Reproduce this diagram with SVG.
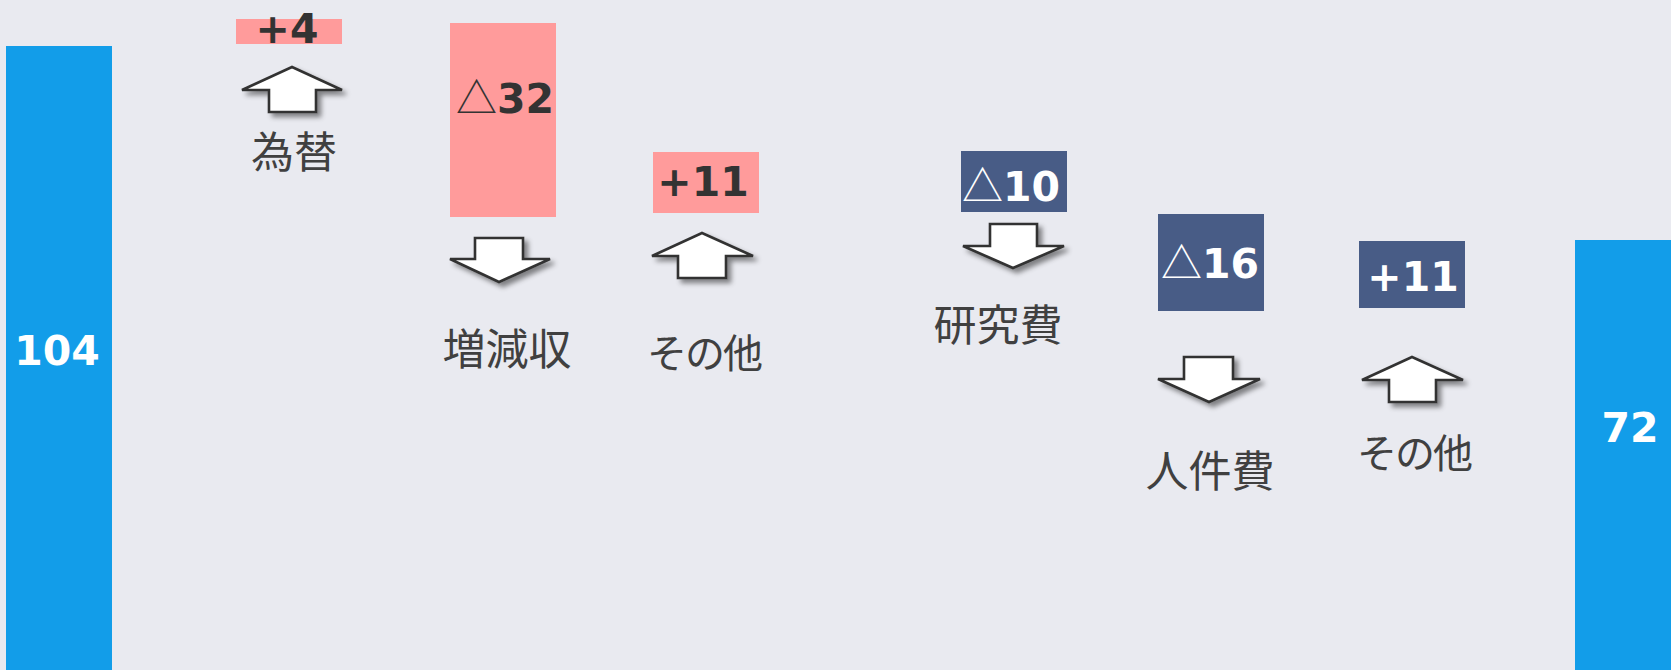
<svg xmlns="http://www.w3.org/2000/svg" width="1671" height="670" viewBox="0 0 1671 670">
<defs>
<filter id="sh" x="-20%" y="-20%" width="150%" height="160%">
<feDropShadow dx="4" dy="4" stdDeviation="2.5" flood-color="#000" flood-opacity="0.45"/>
</filter>
<style>
.bg{fill:#E9EAF0}
.bar{fill:#129DE9}
.pink{fill:#FF9B9B}
.navy{fill:#485C86}
.arr{fill:#FFFFFF;stroke:#333333;stroke-width:2.6;stroke-linejoin:miter;filter:url(#sh)}
.num{font-family:"DejaVu Sans","Noto Sans",sans-serif;font-weight:bold;font-size:41px;text-anchor:middle}
.tri{font-family:"Noto Sans CJK JP","Noto Sans",sans-serif;font-weight:normal}
.dark{fill:#333333}
.white{fill:#FFFFFF}
.lbl{font-family:"Noto Sans CJK JP","Noto Sans CJK SC",sans-serif;font-size:43px;fill:#404040;text-anchor:middle}
.kana{font-size:40px;letter-spacing:-2px}
</style>
</defs>
<rect class="bg" x="0" y="0" width="1671" height="670"/>

<g id="bar-start">
<rect class="bar" x="6" y="46" width="106" height="624"/>
<text class="num white" x="57" y="365" font-size="43">104</text>
</g>

<g id="step-fx">
<rect class="pink" x="236" y="19" width="106" height="25"/>
<text class="num dark" x="287" y="43">+4</text>
<path class="arr" d="M292,67 L342,90 L316,90 L316,112 L269,112 L269,90 L242,90 Z"/>
<text class="lbl" x="294" y="168">為替</text>
</g>

<g id="step-revenue">
<rect class="pink" x="450" y="23" width="106" height="194"/>
<text class="num dark" x="505" y="113"><tspan class="tri">△</tspan>32</text>
<path class="arr" d="M475,238 L523,238 L523,259 L550,259 L499,282 L450,259 L475,259 Z"/>
<text class="lbl" x="507" y="365">増減収</text>
</g>

<g id="step-other1">
<rect class="pink" x="653" y="152" width="106" height="61"/>
<text class="num dark" x="703" y="196">+11</text>
<path class="arr" d="M702,233 L753,256 L726,256 L726,278 L678,278 L678,256 L652,256 Z"/>
<text class="lbl kana" x="704" y="368">その他</text>
</g>

<g id="step-research">
<rect class="navy" x="961" y="151" width="106" height="61"/>
<text class="num white" x="1011" y="201"><tspan class="tri">△</tspan>10</text>
<path class="arr" d="M990,224 L1037,224 L1037,246 L1064,246 L1013,268 L963,246 L990,246 Z"/>
<text class="lbl" x="998" y="341">研究費</text>
</g>

<g id="step-personnel">
<rect class="navy" x="1158" y="214" width="106" height="97"/>
<text class="num white" x="1210" y="278"><tspan class="tri">△</tspan>16</text>
<path class="arr" d="M1184,357 L1233,357 L1233,379 L1260,379 L1209,402 L1158,379 L1184,379 Z"/>
<text class="lbl" x="1210" y="487">人件費</text>
</g>

<g id="step-other2">
<rect class="navy" x="1359" y="241" width="106" height="67"/>
<text class="num white" x="1413" y="291">+11</text>
<path class="arr" d="M1412,357 L1463,380 L1436,380 L1436,402 L1389,402 L1389,380 L1362,380 Z"/>
<text class="lbl kana" x="1414" y="468">その他</text>
</g>

<g id="bar-end">
<rect class="bar" x="1575" y="240" width="96" height="430"/>
<text class="num white" x="1630" y="442">72</text>
</g>

<g id="connectors"/>
</svg>
